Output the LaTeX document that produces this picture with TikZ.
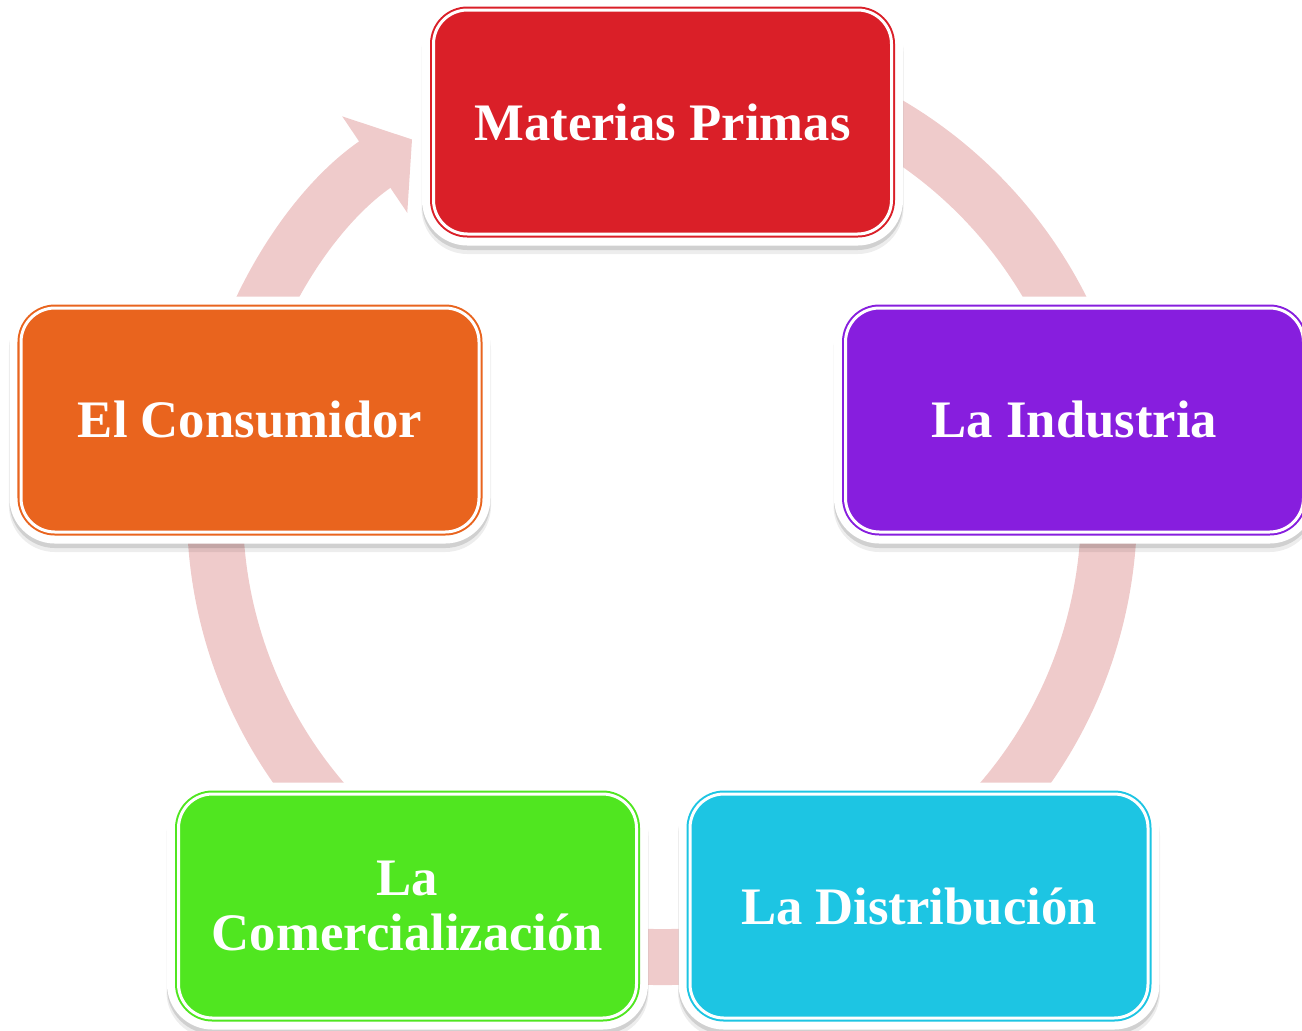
\documentclass[tikz,border=0pt]{standalone}
\usepackage{fontspec}
\setmainfont{Liberation Serif}
\usetikzlibrary{arrows.meta}
\definecolor{ringpink}{HTML}{EFCBCB}
\definecolor{mpred}{HTML}{DA1F28}
\definecolor{indpurple}{HTML}{871EDE}
\definecolor{distcyan}{HTML}{1DC5E3}
\definecolor{comgreen}{HTML}{50E620}
\definecolor{consorange}{HTML}{E9641E}
\tikzset{>=latex}
\tikzset{
    stage/.style={rectangle, rounded corners=0.34cm,
        minimum width=4.58cm, minimum height=2.24cm,
        preaction={draw=black, draw opacity=0.07, line width=0.24cm,
            transform canvas={yshift=-0.08cm}},
        preaction={draw=black, draw opacity=0.12, line width=0.23cm,
            transform canvas={yshift=-0.045cm}},
        preaction={draw=white, fill=white, line width=0.23cm},
        draw=#1, double=white, double distance=0.03cm, line width=0.02cm,
        fill=#1, text=white, align=center,
        font=\fontsize{15}{15.6}\selectfont\bfseries},
    cycle/.style={draw=ringpink, line width=0.56cm,
        -{Triangle[width=1.14cm, length=0.45cm]}}
}

\begin{document}
\begin{tikzpicture}
            \coordinate (hub) at (6.62,-5.10);
            \draw[cycle] (hub) ++(80:4.47) arc[start angle=80, end angle=-236, radius=4.47];
            \node[stage=mpred] (mp) at (6.625,-1.22) {Materias Primas};
            \node[stage=indpurple] (ind) at (10.745,-4.20) {La Industria};
            \node[stage=distcyan] (dist) at (9.19,-9.06) {La Distribución};
            \node[stage=comgreen] (com) at (4.075,-9.06) {La\\Comercialización};
            \node[stage=consorange] (cons) at (2.50,-4.20) {El Consumidor};
            \pgfresetboundingbox
            \path[use as bounding box] (0,0) rectangle (13.02,-10.30);
        \end{tikzpicture}
\end{document}
